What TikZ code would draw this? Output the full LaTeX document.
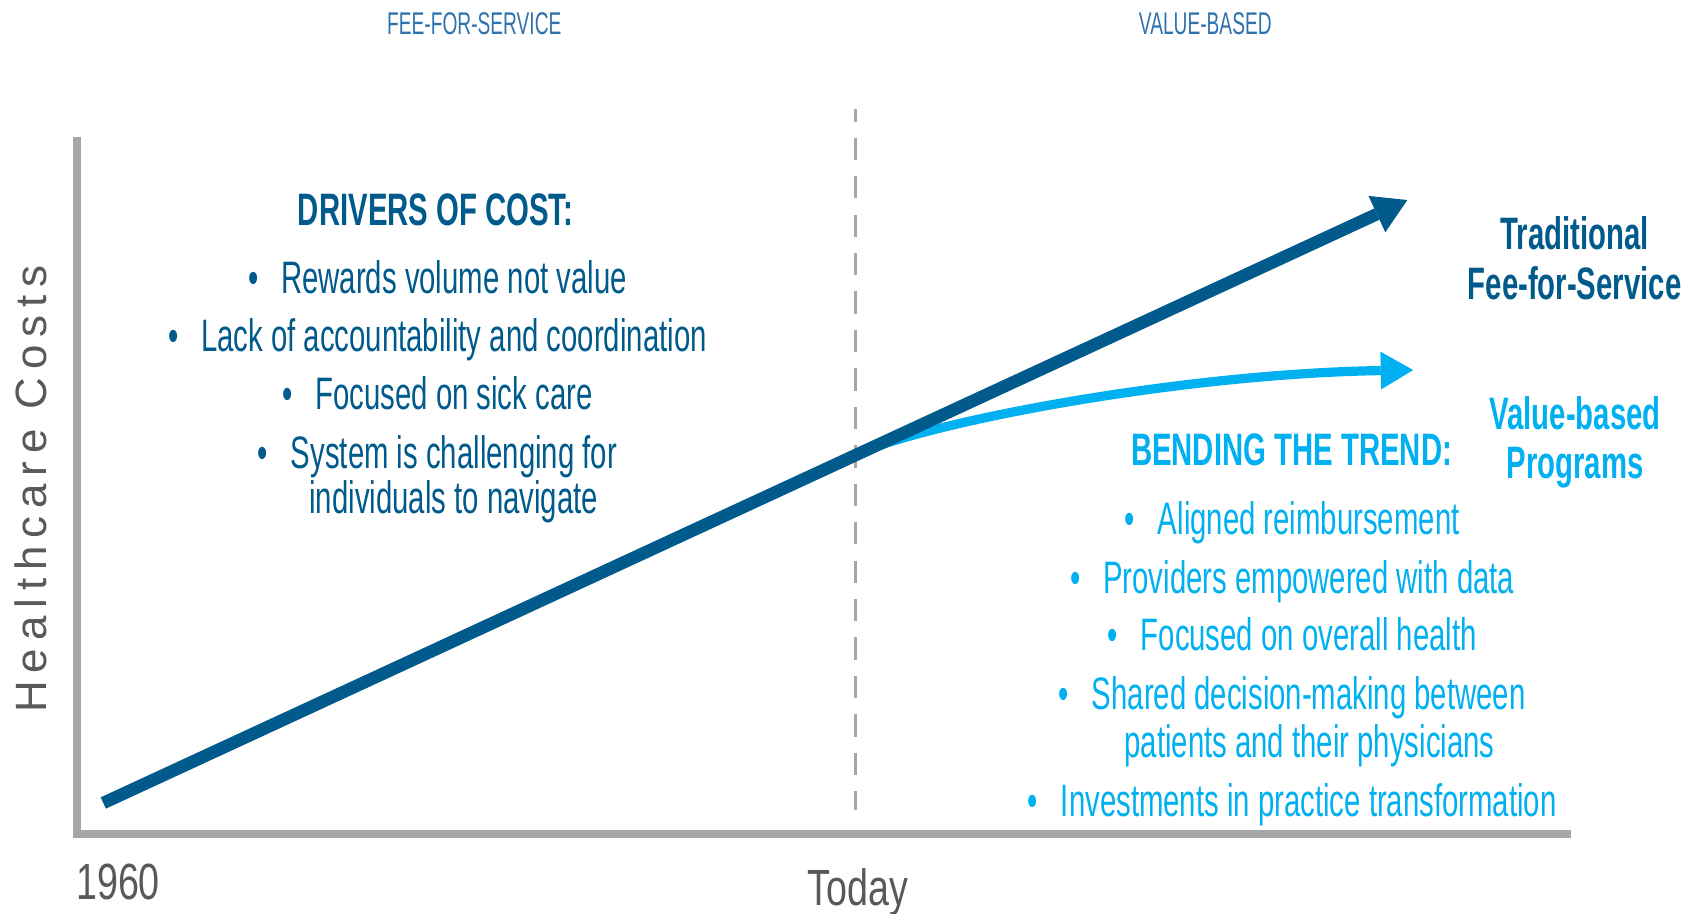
\documentclass[tikz,border=0pt]{standalone}
\usepackage{fontspec}
\usetikzlibrary{arrows.meta}

% condensed faces used throughout
\newfontfamily\condfont{Liberation Sans}[FakeStretch=0.645]
\newfontfamily\erafont{Liberation Sans}[FakeStretch=0.61]
\newfontfamily\yearfont{Liberation Sans}[FakeStretch=0.74]
\newfontfamily\axisfont{Liberation Sans}[LetterSpace=18]

\definecolor{costblue}{HTML}{005A8C}
\definecolor{valueblue}{HTML}{00B0F0}
\definecolor{erablue}{HTML}{2E72AE}
\definecolor{axisgray}{HTML}{A6A6A6}
\definecolor{labelgray}{HTML}{595959}

\newcommand\itembul{\textbullet\hspace{21pt}}

\begin{document}
\begin{tikzpicture}[x=1pt,y=1pt,
  every node/.style={inner sep=0pt, outer sep=0pt},
  era/.style={anchor=base, text=erablue, font=\erafont\fontsize{29}{34}\selectfont},
  bodytext/.style={anchor=base, font=\condfont\fontsize{42}{50}\selectfont},
  boldtext/.style={anchor=base, font=\condfont\bfseries\fontsize{42}{50}\selectfont},
  costtext/.style={bodytext, text=costblue},
  valuetext/.style={bodytext, text=valueblue},
  costhead/.style={boldtext, text=costblue},
  valuehead/.style={boldtext, text=valueblue},
  yearlabel/.style={anchor=base, text=labelgray, font=\yearfont\fontsize{47}{56}\selectfont},
  axistitle/.style={text=labelgray, font=\axisfont\fontsize{40.5}{48}\selectfont},
  axisline/.style={draw=axisgray, line width=7.5pt, line join=miter, line cap=butt},
  todayline/.style={draw=axisgray, line width=3pt, dash pattern=on 20.6pt off 14.9pt, dash phase=9pt},
  ffline/.style={draw=costblue, line width=11.5pt, line cap=butt,
    -{Triangle[length=31pt,width=37pt,line width=0pt]}},
  valueline/.style={draw=valueblue, line width=8.5pt, line cap=butt,
    -{Triangle[length=30pt,width=35pt,line width=0pt]}}
]
\useasboundingbox (0,0) rectangle (1568,-844);

% era headings
\node[era] (feehead) at (438,-31.7) {FEE-FOR-SERVICE};
\node[era] (valhead) at (1113,-31.7) {VALUE-BASED};

% axes
\coordinate (ytop) at (70.7,-126.2);
\coordinate (origin) at (70.7,-770);
\coordinate (xend) at (1450.7,-770);
\draw[axisline] (ytop) -- (origin) -- (xend);

% "today" divider
\coordinate (todaytop) at (790,-100.6);
\coordinate (todaybot) at (790,-748);
\draw[todayline] (todaytop) -- (todaybot);

% cost trends
\coordinate (start) at (95.4,-741.5);
\coordinate (fftip) at (1299.6,-184.7);
\coordinate (branch) at (800,-415.7);
\coordinate (vbtip) at (1305,-341.7);
\draw[valueline] (branch) .. controls (880,-385) and (1100,-345) .. (vbtip);
\draw[ffline] (start) -- (fftip);

% axis labels
\node[axistitle, rotate=90, anchor=base west] (costs) at (42.5,-658) {Healthcare Costs};
\node[yearlabel] (y1960) at (109,-831) {1960};
\node[yearlabel] (ytoday) at (792.4,-835.7) {Today};

% drivers of cost
\node[costhead] (drivers) at (402.3,-207.8) {DRIVERS OF COST:};
\node[costtext] (d1) at (404,-270.9) {\itembul Rewards volume not value};
\node[costtext] (d2) at (404,-324.7) {\itembul Lack of accountability and coordination};
\node[costtext] (d3) at (404,-377.9) {\itembul Focused on sick care};
\node[costtext] (d4) at (404,-432.5) {\itembul System is challenging for};
\node[costtext] (d4b) at (419,-474.6) {individuals to navigate};

% trend labels
\node[costhead] (trad1) at (1454,-230.2) {Traditional};
\node[costhead] (trad2) at (1454,-277) {Fee-for-Service};
\node[valuehead] (vb1) at (1454.5,-396.4) {Value-based};
\node[valuehead] (vb2) at (1454.5,-441.7) {Programs};

% bending the trend
\node[valuehead] (bending) at (1192.7,-429.4) {BENDING THE TREND:};
\node[valuetext] (b1) at (1193.3,-494) {\itembul Aligned reimbursement};
\node[valuetext] (b2) at (1193.3,-547.9) {\itembul Providers empowered with data};
\node[valuetext] (b3) at (1193.3,-600.8) {\itembul Focused on overall health};
\node[valuetext] (b4) at (1193.3,-655.6) {\itembul Shared decision-making between};
\node[valuetext] (b4b) at (1209.3,-699.3) {patients and their physicians};
\node[valuetext] (b5) at (1193.3,-754.1) {\itembul Investments in practice transformation};
\end{tikzpicture}
\end{document}
